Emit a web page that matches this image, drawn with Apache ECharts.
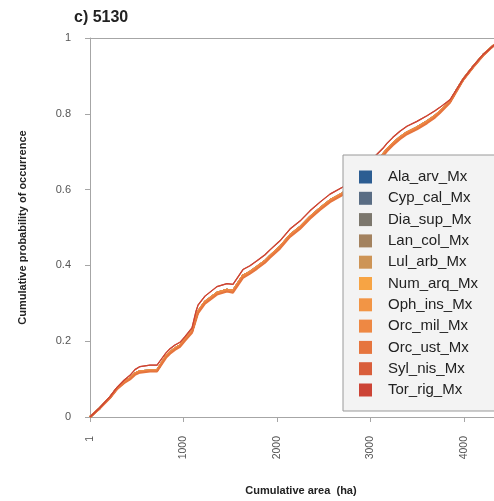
<!DOCTYPE html>
<html>
<head>
<meta charset="utf-8">
<script src="https://cdn.jsdelivr.net/npm/echarts@6/dist/echarts.min.js"></script>
<style>
  html, body { margin: 0; padding: 0; background: #fff; }
  #chart_c { width: 494px; height: 501px; }
</style>
</head>
<body>
<div id="chart_c"></div>
<script>
// cumulative area (ha), shared by every curve
var areaHa = [1, 108, 215, 290, 365, 429, 482, 536, 643, 718, 771, 814, 857, 910, 964, 1017,
  1092, 1135, 1156, 1231, 1359, 1466, 1530, 1637, 1712, 1787, 1873, 1926, 2033, 2140, 2247,
  2354, 2461, 2568, 2706, 2920, 3134, 3177, 3241, 3316, 3391, 3498, 3605, 3691, 3744, 3851,
  3926, 3990, 4097, 4204, 4311, 4420];

// main orange band (most species overlap here)
var probBand = [0, 0.024, 0.052, 0.076, 0.092, 0.102, 0.115, 0.121, 0.123, 0.123, 0.144, 0.160,
  0.171, 0.181, 0.189, 0.205, 0.226, 0.262, 0.278, 0.304, 0.328, 0.336, 0.333, 0.373, 0.383,
  0.396, 0.412, 0.425, 0.449, 0.480, 0.501, 0.528, 0.551, 0.572, 0.591, 0.640, 0.693, 0.706,
  0.722, 0.738, 0.751, 0.764, 0.780, 0.795, 0.806, 0.832, 0.864, 0.890, 0.924, 0.955, 0.979, 1.0];

// thin line a bit above the band
var probUpper = [0, 0.025, 0.054, 0.078, 0.097, 0.110, 0.125, 0.133, 0.137, 0.137, 0.155, 0.169,
  0.180, 0.190, 0.197, 0.212, 0.235, 0.279, 0.295, 0.319, 0.344, 0.352, 0.350, 0.389, 0.399,
  0.412, 0.428, 0.441, 0.465, 0.496, 0.517, 0.544, 0.567, 0.588, 0.607, 0.656, 0.709, 0.722,
  0.738, 0.754, 0.767, 0.780, 0.795, 0.808, 0.817, 0.837, 0.866, 0.891, 0.925, 0.956, 0.979, 1.0];

// lower edge of the band
var probLower = [0, 0.023, 0.050, 0.073, 0.089, 0.099, 0.111, 0.117, 0.120, 0.120, 0.140, 0.156,
  0.167, 0.177, 0.185, 0.201, 0.222, 0.256, 0.273, 0.299, 0.323, 0.331, 0.328, 0.367, 0.378,
  0.391, 0.407, 0.420, 0.444, 0.475, 0.496, 0.523, 0.546, 0.567, 0.586, 0.635, 0.688, 0.701,
  0.717, 0.733, 0.746, 0.759, 0.775, 0.790, 0.802, 0.829, 0.861, 0.888, 0.922, 0.953, 0.978, 1.0];

var species = ['Ala_arv_Mx', 'Cyp_cal_Mx', 'Dia_sup_Mx', 'Lan_col_Mx', 'Lul_arb_Mx', 'Num_arq_Mx',
  'Oph_ins_Mx', 'Orc_mil_Mx', 'Orc_ust_Mx', 'Syl_nis_Mx', 'Tor_rig_Mx'];
var speciesColors = ['#2c5d92', '#5a6d84', '#7c776d', '#a3825f', '#cd9456', '#f7a444',
  '#f29545', '#ee8843', '#e6753e', '#d95e3b', '#cc4436'];
var speciesCurve = [probBand, probBand, probBand, probBand, probBand, probBand,
  probBand, probBand, probLower, probUpper, probUpper];

var xTicks = [1, 1000, 2000, 3000, 4000];

var myChart_c = echarts.init(document.getElementById('chart_c'));

var seriesList = [];
for (var i = 0; i < species.length; i++) {
  var pts = [];
  for (var j = 0; j < areaHa.length; j++) {
    pts.push([areaHa[j], speciesCurve[i][j]]);
  }
  seriesList.push({
    name: species[i],
    type: 'line',
    data: pts,
    showSymbol: false,
    symbol: 'none',
    color: speciesColors[i],
    clip: true,
    lineStyle: { width: (speciesCurve[i] === probUpper) ? 1.2 : 2, color: speciesColors[i] },
    animation: false
  });
}

var axisGray = '#a6a6a6';
var fontFam = 'Liberation Sans, Arial';

var option = {
  animation: false,
  title: {
    text: 'c) 5130',
    left: 69,
    top: 5,
    textStyle: { fontFamily: fontFam, fontSize: 16, fontWeight: 'bold', color: '#222' }
  },
  grid: {
    left: 90,
    top: 38,
    right: 0,
    height: 381
  },
  legend: {
    orient: 'vertical',
    left: 343,
    top: 155,
    padding: [14, 40, 13, 16],
    backgroundColor: '#f3f3f3',
    borderColor: '#999',
    borderWidth: 1,
    borderRadius: 0,
    icon: 'rect',
    itemWidth: 13,
    itemHeight: 13,
    itemGap: 5.3,
    textStyle: {
      fontFamily: fontFam,
      fontSize: 15,
      lineHeight: 16,
      color: '#222',
      padding: [0, 0, 0, 11]
    },
    data: species
  },
  xAxis: [{
    type: 'value',
    min: 1,
    max: 4322,
    name: 'Cumulative area  (ha)',
    nameLocation: 'middle',
    nameGap: 68,
    nameTextStyle: { fontFamily: fontFam, fontSize: 11, fontWeight: 'bold', color: '#222', padding: [0, 0, 0, 18] },
    splitLine: { show: false },
    axisLine: { lineStyle: { color: axisGray } },
    axisTick: { show: true, length: 5, customValues: xTicks, lineStyle: { color: axisGray } },
    axisLabel: {
      customValues: xTicks,
      rotate: 90,
      margin: 19,
      fontFamily: fontFam,
      fontSize: 10.5,
      color: '#555',
      formatter: function (v) { return String(v); }
    }
  }, {
    // top edge of the plot box
    type: 'value',
    position: 'top',
    min: 1,
    max: 4322,
    axisLine: { show: true, lineStyle: { color: axisGray } },
    axisTick: { show: false },
    axisLabel: { show: false },
    splitLine: { show: false }
  }],
  yAxis: {
    type: 'value',
    min: 0,
    max: 1,
    interval: 0.2,
    name: 'Cumulative probability of occurrence',
    nameLocation: 'middle',
    nameGap: 62,
    nameTextStyle: { fontFamily: fontFam, fontSize: 11, fontWeight: 'bold', color: '#222' },
    splitLine: { show: false },
    axisLine: { show: true, lineStyle: { color: axisGray } },
    axisTick: { show: true, length: 5, lineStyle: { color: axisGray } },
    axisLabel: {
      margin: 19,
      fontFamily: fontFam,
      fontSize: 11,
      color: '#555'
    }
  },
  series: seriesList
};

myChart_c.setOption(option);
</script>
</body>
</html>
